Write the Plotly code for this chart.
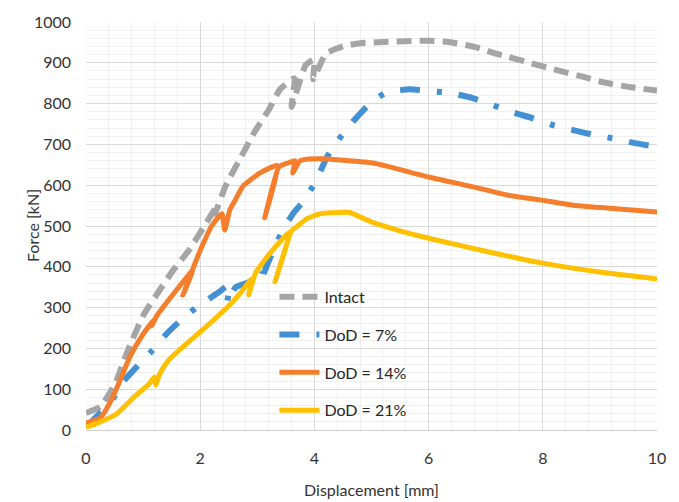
import plotly.graph_objects as go

# ---- data ----
series_names = ["Intact", "DoD = 7%", "DoD = 14%", "DoD = 21%"]

x_intact = [0.0, 0.25, 0.5, 0.72, 1.0, 1.3, 1.52, 1.8, 2.05, 2.3, 2.26, 2.45, 2.7, 2.95, 3.2, 3.4, 3.65, 3.6,
            3.85, 4.0, 3.98, 4.2, 4.5, 4.8, 5.2, 5.6, 6.0, 6.35, 6.8, 7.2, 7.8, 8.3, 8.7, 9.1, 9.5, 10.0]
y_intact = [42, 57, 110, 190, 280, 345, 390, 440, 495, 550, 530, 600, 665, 730, 785, 835, 862, 792,
            895, 908, 860, 922, 940, 948, 951, 953, 954, 951, 939, 922, 899, 880, 866, 851, 841, 832]

x_dod7 = [0.02, 0.25, 0.45, 0.65, 0.95, 1.17, 1.42, 1.7, 1.95, 2.3, 2.52, 2.47, 2.62, 2.85, 3.05, 3.1, 3.05,
          3.28, 3.45, 3.63, 3.8, 4.02, 4.22, 4.42, 4.7, 5.0, 5.27, 5.67, 6.08, 6.37, 6.76, 7.13, 7.46, 7.83,
          8.18, 8.53, 8.9, 9.3, 9.61, 10.0]
y_dod7 = [10, 42, 72, 118, 164, 196, 237, 274, 302, 335, 357, 311, 350, 362, 388, 394, 363,
          441, 490, 531, 560, 608, 669, 711, 760, 804, 828, 835, 830, 826, 814, 796, 779, 764,
          747, 735, 723, 713, 703, 694]

x_dod14 = [0.0, 0.25, 0.45, 0.6, 0.77, 1.0, 1.2, 1.15, 1.25, 1.5, 1.75, 1.87, 1.7, 1.88, 2.0, 2.2, 2.38,
           2.43, 2.52, 2.6, 2.75, 3.05, 3.35, 3.13, 3.38, 3.55, 3.66, 3.62, 3.75, 3.9, 4.1, 4.45, 5.0,
           5.32, 6.0, 6.78, 7.37, 7.95, 8.53, 9.12, 10.0]
y_dod14 = [17, 30, 75, 123, 180, 235, 272, 255, 282, 328, 372, 392, 331, 398, 440, 500, 530,
           490, 540, 560, 598, 630, 648, 520, 645, 655, 660, 630, 660, 664, 665, 662, 655,
           645, 620, 596, 576, 564, 551, 544, 534]

x_dod21 = [0.0, 0.25, 0.54, 0.85, 1.1, 1.2, 1.22, 1.3, 1.45, 1.65, 1.9, 2.2, 2.47, 2.7, 2.9, 2.85, 2.97,
           3.17, 3.4, 3.57, 3.31, 3.6, 3.69, 3.87, 4.1, 4.45, 4.62, 5.0, 5.5, 6.0, 7.0, 8.0, 9.0, 10.0]
y_dod21 = [7, 20, 40, 82, 112, 130, 110, 140, 172, 198, 228, 265, 300, 335, 370, 331, 385,
           424, 462, 485, 363, 488, 498, 518, 530, 533, 533, 510, 488, 470, 438, 409, 387, 370]

x_ticks = [0, 2, 4, 6, 8, 10]
y_ticks = [0, 100, 200, 300, 400, 500, 600, 700, 800, 900, 1000]

FONT = "Lato, 'Noto Sans', sans-serif"

fig = go.Figure()
styles = [
    dict(color="#A5A5A5", width=6, dash="15px,8px"),
    dict(color="#4391D3", width=6, dash="20px,17px,5px,17px"),
    dict(color="#F47E2B", width=5, dash="solid"),
    dict(color="#FFC000", width=5, dash="solid"),
]
data = [(x_intact, y_intact), (x_dod7, y_dod7), (x_dod14, y_dod14), (x_dod21, y_dod21)]
for i, (name, (xs, ys), st) in enumerate(zip(series_names, data, styles)):
    fig.add_trace(go.Scatter(
        x=xs, y=ys, name=name, mode="lines", legendgroup=f"g{i}",
        line=dict(color=st["color"], width=st["width"], dash=st["dash"], shape="spline", smoothing=0.5),
    ))

fig.update_layout(
    width=679, height=502,
    margin=dict(l=86, r=22, t=22, b=72),
    paper_bgcolor="white", plot_bgcolor="white",
    font=dict(family=FONT, size=16, color="#333333"),
    legend=dict(x=0.33, y=0.368, xanchor="left", yanchor="top",
                bgcolor="rgba(0,0,0,0)", font=dict(size=16, color="#262626"),
                tracegroupgap=14, itemwidth=40),
    xaxis=dict(range=[0, 10], tickvals=x_ticks, ticktext=[str(v) for v in x_ticks],
               showgrid=True, gridcolor="#D9D9D9", gridwidth=1,
               minor=dict(dtick=0.4, showgrid=True, gridcolor="#F0F0F0", gridwidth=1),
               zeroline=False, showline=True, linecolor="#D0D0D0", linewidth=1, mirror=False,
               ticks="", ticklabelstandoff=14, automargin=False,
               title=dict(text="Displacement [mm]", standoff=18, font=dict(size=16, color="#333333")),
               tickfont=dict(size=16, color="#333333")),
    yaxis=dict(range=[0, 1000], tickvals=y_ticks, ticktext=[str(v) for v in y_ticks],
               showgrid=True, gridcolor="#D9D9D9", gridwidth=1,
               minor=dict(dtick=20, showgrid=True, gridcolor="#F0F0F0", gridwidth=1),
               zeroline=False, showline=False,
               ticks="", ticklabelstandoff=14, automargin=False,
               tickfont=dict(size=16, color="#333333")),
    annotations=[dict(text="Force [kN]", xref="paper", yref="paper", x=-54 / 571, y=0.5,
                      xanchor="center", yanchor="middle", textangle=-90, showarrow=False,
                      font=dict(size=16, color="#333333"))],
)

fig.write_html("out.html", config={"displayModeBar": False},
               post_script="document.body.style.margin='0px';")
